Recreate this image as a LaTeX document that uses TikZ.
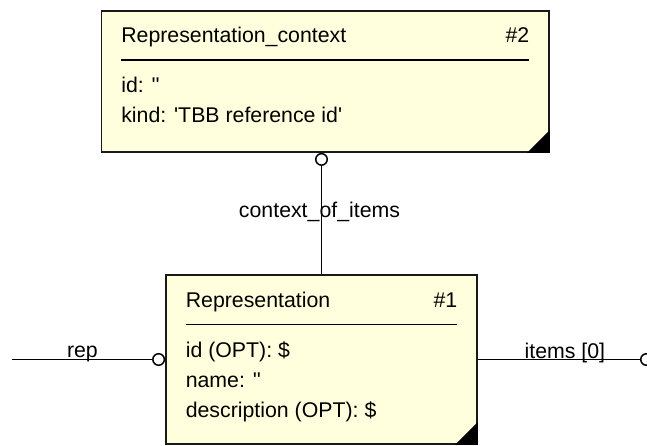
\documentclass[tikz,border=0pt]{standalone}
\usepackage{fontspec}
\setmainfont{Liberation Sans}
\usepackage{xcolor}
\usetikzlibrary{arrows.meta}
\definecolor{notefill}{RGB}{255,255,221}

\begin{document}
\begin{tikzpicture}[x=1pt, y=1pt,
  entity/.style={draw=black!90, line width=1.8pt, fill=notefill, inner sep=0pt},
  attr/.style={anchor=base west, inner sep=0pt, font=\fontsize{21.3}{25}\selectfont},
  num/.style={anchor=base east, inner sep=0pt, font=\fontsize{21.3}{25}\selectfont},
  lbl/.style={anchor=base, inner sep=0pt, font=\fontsize{21.3}{25}\selectfont},
  link/.style={line width=1.5pt, -{Circle[open, length=13pt, width=13pt]}}]
\useasboundingbox (0,0) rectangle (647,446);

% Representation_context
\node[entity, minimum width=447.5, minimum height=141.3] (ctx) at (325.25,364.65) {};
\fill (ctx.south east) -- ++(-23,0) -- ++(23,23) -- cycle;
\node[attr] (ctxname) at ([shift={(20.5,-33)}]ctx.north west) {Representation\_context};
\node[num] (ctxnum) at ([shift={(-20.5,-33)}]ctx.north east) {\#2};
\draw[line width=1.8pt] ([shift={(20.5,-50.5)}]ctx.north west) -- ([shift={(-20.5,-50.5)}]ctx.north east);
\node[attr] (ctxid) at ([shift={(20.5,-83)}]ctx.north west) {id: \textquotesingle\textquotesingle};
\node[attr] (ctxkind) at ([shift={(20.5,-112.5)}]ctx.north west) {kind: \textquotesingle TBB reference id\textquotesingle};

% Representation
\node[entity, minimum width=311, minimum height=169] (rep) at (321.5,86.5) {};
\fill (rep.south east) -- ++(-23,0) -- ++(23,23) -- cycle;
\node[attr] (repname) at ([shift={(20.5,-33)}]rep.north west) {Representation};
\node[num] (repnum) at ([shift={(-20.5,-33)}]rep.north east) {\#1};
\draw[line width=1.8pt] ([shift={(20.5,-50.5)}]rep.north west) -- ([shift={(-20.5,-50.5)}]rep.north east);
\node[attr] (repid) at ([shift={(20.5,-83)}]rep.north west) {id (OPT): \$};
\node[attr] (repnm) at ([shift={(20.5,-113)}]rep.north west) {name: \textquotesingle\textquotesingle};
\node[attr] (repdesc) at ([shift={(20.5,-143)}]rep.north west) {description (OPT): \$};

% connectors
\coordinate (repend) at (12,86.5);
\coordinate (itemsend) at (653,86.5);
\draw[link] (rep.north) -- (rep.north |- ctx.south)
  node[lbl, pos=0.467, xshift=-2] (ctxlabel) {context\_of\_items};
\draw[link] (repend) -- (rep.west)
  node[lbl, pos=0.46, yshift=2] (replabel) {rep};
\draw[link] (rep.east) -- (itemsend)
  node[lbl, pos=0.497, yshift=1] (itemslabel) {items [0]};
\end{tikzpicture}
\end{document}
